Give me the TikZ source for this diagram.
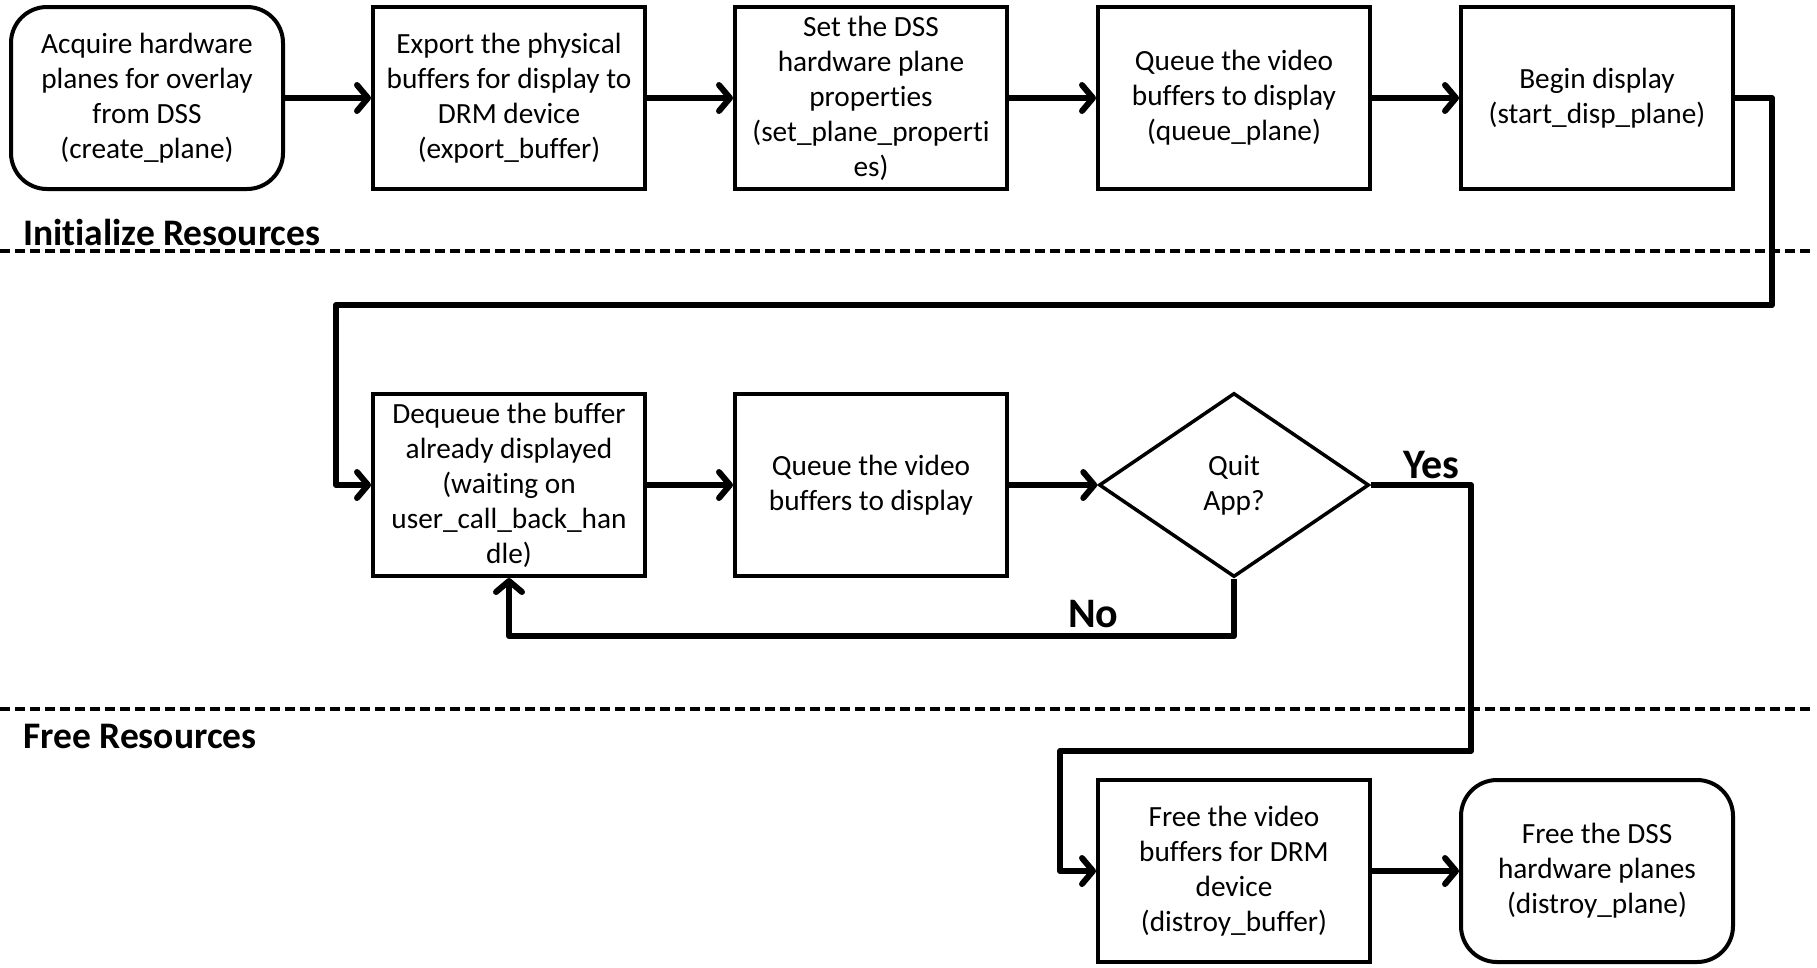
\documentclass[tikz,border=0pt]{standalone}
\usepackage{fontspec}
\setmainfont{Carlito}[Ligatures=NoCommon]
\usetikzlibrary{arrows.meta,shapes.geometric}
\begin{document}
\begin{tikzpicture}[x=1pt,y=-1pt,
 box/.style={draw,line width=4pt,minimum width=272pt,minimum height=182pt,align=center,
   font=\fontsize{29.3}{35}\selectfont,inner sep=0pt},
 rbox/.style={box,rounded corners=36pt},
 dia/.style={draw,diamond,line width=3.5pt,minimum width=270pt,minimum height=184pt,align=center,
   font=\fontsize{29.3}{35}\selectfont,inner sep=0pt},
 conn/.style={line width=6pt,line join=round,-{Straight Barb[length=11pt,width=26pt,line cap=round,line join=round]}},
 sep/.style={line width=4pt,dash pattern=on 10pt off 5pt},
 lbl/.style={font=\bfseries\fontsize{37.5}{44}\selectfont,inner sep=0pt,anchor=base west},
 yn/.style={font=\bfseries\fontsize{42}{48}\selectfont,inner sep=0pt,anchor=base west}
]
\useasboundingbox (0,0) rectangle (1817,967);

% separators
\draw[sep] (0,251) -- (1812,251);
\draw[sep] (0,709) -- (1812,709);
\node[lbl] (lblinit) at (23,245) {Initialize Resources};
\node[lbl] (lblfree) at (23,748) {Free Resources};

% row 1
\node[rbox] (b1) at (147,98) {Acquire hardware\\planes for overlay\\from DSS\\(create\_plane)};
\node[box] (b2) at (509,98) {Export the physical\\buffers for display to\\DRM device\\(export\_buffer)};
\node[box] (b3) at (871,98) {Set the DSS\\hardware plane\\properties\\(set\_plane\_properti\\es)};
\node[box] (b4) at (1234,98) {Queue the video\\buffers to display\\(queue\_plane)};
\node[box] (b5) at (1597,98) {Begin display\\(start\_disp\_plane)};

% row 2
\node[box] (b6) at (509,485) {Dequeue the buffer\\already displayed\\(waiting on\\user\_call\_back\_han\\dle)};
\node[box] (b7) at (871,485) {Queue the video\\buffers to display};
\node[dia] (d) at (1234,485) {Quit\\App?};

% row 3
\node[box] (b8) at (1234,871) {Free the video\\buffers for DRM\\device\\(distroy\_buffer)};
\node[rbox] (b9) at (1597,871) {Free the DSS\\hardware planes\\(distroy\_plane)};

% connectors
\draw[conn] (b1) -- (b2);
\draw[conn] (b2) -- (b3);
\draw[conn] (b3) -- (b4);
\draw[conn] (b4) -- (b5);
\coordinate (c1) at (1772,98);
\coordinate (c2) at (1772,305);
\coordinate (c3) at (336,305);
\draw[conn] (b5.east) -- (c1) -- (c2) -- (c3) |- (b6.west);
\draw[conn] (b6) -- (b7);
\draw[conn] (b7) -- (d);
\coordinate (y1) at (1471,485);
\coordinate (y2) at (1471,751);
\coordinate (y3) at (1060,751);
\draw[conn] (d.east) -- (y1) -- (y2) -- (y3) |- (b8.west);
\coordinate (n1) at (1234,636);
\draw[conn] (d.south) -- (n1) -| (b6.south);
\draw[conn] (b8) -- (b9);

\node[yn] (yes) at (1403,478) {Yes};
\node[yn] (no) at (1068,627) {No};
\end{tikzpicture}
\end{document}
